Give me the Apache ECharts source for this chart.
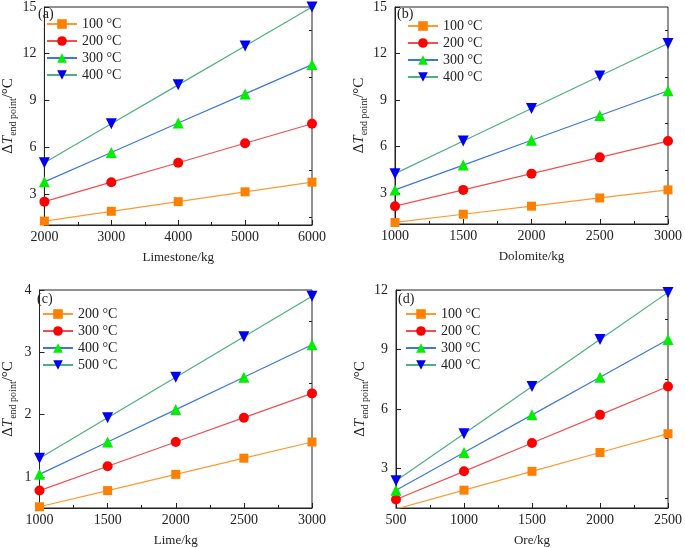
<!DOCTYPE html>
<html>
<head>
<meta charset="utf-8">
<script src="https://cdn.jsdelivr.net/npm/echarts@6/dist/echarts.min.js"></script>
<style>html,body{margin:0;padding:0;background:#fff}#c{width:685px;height:548px}</style>
</head>
<body>
<div id="c"></div>
<script>
// ---- data ----
const xA = [2000, 3000, 4000, 5000, 6000];
const a100 = [1.25, 1.88, 2.5, 3.13, 3.75];
const a200 = [2.5, 3.75, 5.0, 6.25, 7.5];
const a300 = [3.77, 5.66, 7.55, 9.42, 11.3];
const a400 = [5.0, 7.5, 10.0, 12.5, 15.0];

const xB = [1000, 1500, 2000, 2500, 3000];
const b100 = [1.1, 1.63, 2.15, 2.68, 3.2];
const b200 = [2.15, 3.2, 4.25, 5.3, 6.35];
const b300 = [3.2, 4.8, 6.4, 8.0, 9.6];
const b400 = [4.25, 6.35, 8.45, 10.55, 12.65];

const xC = [1000, 1500, 2000, 2500, 3000];
const c200 = [0.52, 0.78, 1.04, 1.3, 1.56];
const c300 = [0.78, 1.17, 1.56, 1.95, 2.34];
const c400 = [1.04, 1.56, 2.08, 2.6, 3.12];
const c500 = [1.3, 1.95, 2.6, 3.25, 3.9];

const xD = [500, 1000, 1500, 2000, 2500];
const d100 = [0.95, 1.9, 2.85, 3.8, 4.75];
const d200 = [1.43, 2.85, 4.28, 5.7, 7.13];
const d300 = [1.9, 3.8, 5.7, 7.6, 9.5];
const d400 = [2.38, 4.75, 7.13, 9.5, 11.88];

const legendA = ['100 °C', '200 °C', '300 °C', '400 °C'];
const legendC = ['200 °C', '300 °C', '400 °C', '500 °C'];

const yTicksA = [3, 6, 9, 12, 15], yMinorA = [1.5, 4.5, 7.5, 10.5, 13.5];
const yTicksC = [1, 2, 3, 4], yMinorC = [1.5, 2.5, 3.5];
const yTicksD = [3, 6, 9, 12], yMinorD = [1.5, 4.5, 7.5, 10.5];

// ---- styles ----
const FONT = '"Liberation Serif", "Times New Roman", serif';
const INK = '#222';
const styles = [
  {symbol: 'rect', size: 9, mk: '#FF8000', ln: '#FF9A33'},
  {symbol: 'circle', size: 10, mk: '#FF0000', ln: '#F05050'},
  {symbol: 'triangle', size: 11, mk: '#00EE00', ln: '#3C78DC'},
  {symbol: 'path://M0,0 L10,0 L5,9 Z', size: 11, mk: '#0000F0', ln: '#4CB080'}
];

const grids = [
  {left: 36, top: 5, width: 276, height: 220},
  {left: 395, top: 5, width: 277, height: 219},
  {left: 35, top: 290, width: 277, height: 218},
  {left: 396, top: 290, width: 276, height: 218}
];

const yName = '{m|Δ}{i|T}{s|end point}{m|/°C}';
const yRich = {
  m: {fontFamily: FONT, fontSize: 15, color: INK, lineHeight: 20},
  i: {fontFamily: FONT, fontSize: 15, fontStyle: 'italic', color: INK, lineHeight: 20},
  s: {fontFamily: FONT, fontSize: 10, color: INK, lineHeight: 8, verticalAlign: 'bottom'}
};

function xAxis(gi, min, max, interval, name) {
  return {
    type: 'value', gridIndex: gi, min, max, interval,
    axisLine: {show: true, lineStyle: {color: INK, width: 1}},
    axisTick: {show: true, inside: true, length: 5, lineStyle: {color: INK}},
    minorTick: {show: true, splitNumber: 2, length: 3, lineStyle: {color: INK}},
    splitLine: {show: false}, minorSplitLine: {show: false},
    axisLabel: {fontFamily: FONT, fontSize: 14, color: INK, margin: 5, showMinLabel: true, showMaxLabel: true,
      formatter: v => String(v)},
    name, nameLocation: 'middle', nameGap: 26,
    nameTextStyle: {fontFamily: FONT, fontSize: 13, color: INK}
  };
}
function yAxes(gi, min, max, major, minor) {
  return [{
    type: 'value', gridIndex: gi, min, max,
    axisLine: {show: true, lineStyle: {color: INK, width: 1}},
    axisTick: {show: true, inside: true, length: 5, customValues: major, lineStyle: {color: INK}},
    axisLabel: {fontFamily: FONT, fontSize: 14, color: INK, margin: 8, customValues: major,
      formatter: v => String(v)},
    splitLine: {show: false},
    name: yName, nameLocation: 'middle', nameGap: 21, nameRotate: 90,
    nameTextStyle: {rich: yRich}
  }, {
    type: 'value', gridIndex: gi, min, max,
    axisLine: {show: false},
    axisTick: {show: true, inside: true, length: 3, customValues: minor, lineStyle: {color: INK}},
    axisLabel: {show: false},
    splitLine: {show: false}
  }];
}

function mk(prefix, names, xs, ys, gi) {
  return ys.map((vals, k) => ({
    type: 'line',
    name: prefix + ':' + names[k],
    xAxisIndex: gi, yAxisIndex: gi * 2,
    data: xs.map((x, j) => [x, vals[j]]),
    symbol: styles[k].symbol, symbolSize: styles[k].size,
    itemStyle: {color: styles[k].mk},
    lineStyle: {color: styles[k].ln, width: 1.2},
    clip: true, silent: true, z: 2 + k
  }));
}

const series = [].concat(
  mk('a', legendA, xA, [a100, a200, a300, a400], 0),
  mk('b', legendA, xB, [b100, b200, b300, b400], 1),
  mk('c', legendC, xC, [c200, c300, c400, c500], 2),
  mk('d', legendA, xD, [d100, d200, d300, d400], 3)
);

function legend(prefix, names, left, top) {
  return {
    data: names.map(n => prefix + ':' + n),
    formatter: n => n.split(':')[1],
    orient: 'vertical', left, top, padding: 0,
    itemWidth: 30, itemHeight: 12, itemGap: 3,
    selectedMode: false,
    textStyle: {fontFamily: FONT, fontSize: 14, color: INK}
  };
}

function panelTitle(t, left, top) {
  return {text: t, left, top, padding: 0,
    textStyle: {fontFamily: FONT, fontSize: 14, fontWeight: 'normal', color: INK}};
}

const option = {
  animation: false,
  backgroundColor: '#fff',
  grid: grids.map(g => Object.assign({show: true, borderColor: INK, borderWidth: 1, backgroundColor: 'transparent'}, g)),
  title: [panelTitle('(a)', 38, 7), panelTitle('(b)', 397, 7), panelTitle('(c)', 37, 292), panelTitle('(d)', 398, 292)],
  legend: [
    legend('a', legendA, 46, 17),
    legend('b', legendA, 407, 19),
    legend('c', legendC, 42, 307),
    legend('d', legendA, 405, 307)
  ],
  xAxis: [
    xAxis(0, 2000, 6000, 1000, 'Limestone/kg'),
    xAxis(1, 1000, 3000, 500, 'Dolomite/kg'),
    xAxis(2, 1000, 3000, 500, 'Lime/kg'),
    xAxis(3, 500, 2500, 500, 'Ore/kg')
  ],
  yAxis: [].concat(
    yAxes(0, 1, 15, yTicksA, yMinorA),
    yAxes(1, 1, 15, yTicksA, yMinorA),
    yAxes(2, 0.5, 4, yTicksC, yMinorC),
    yAxes(3, 1, 12, yTicksD, yMinorD)
  ),
  series
};

const chart = echarts.init(document.getElementById('c'), null, {renderer: 'canvas'});
chart.setOption(option);
</script>
</body>
</html>
